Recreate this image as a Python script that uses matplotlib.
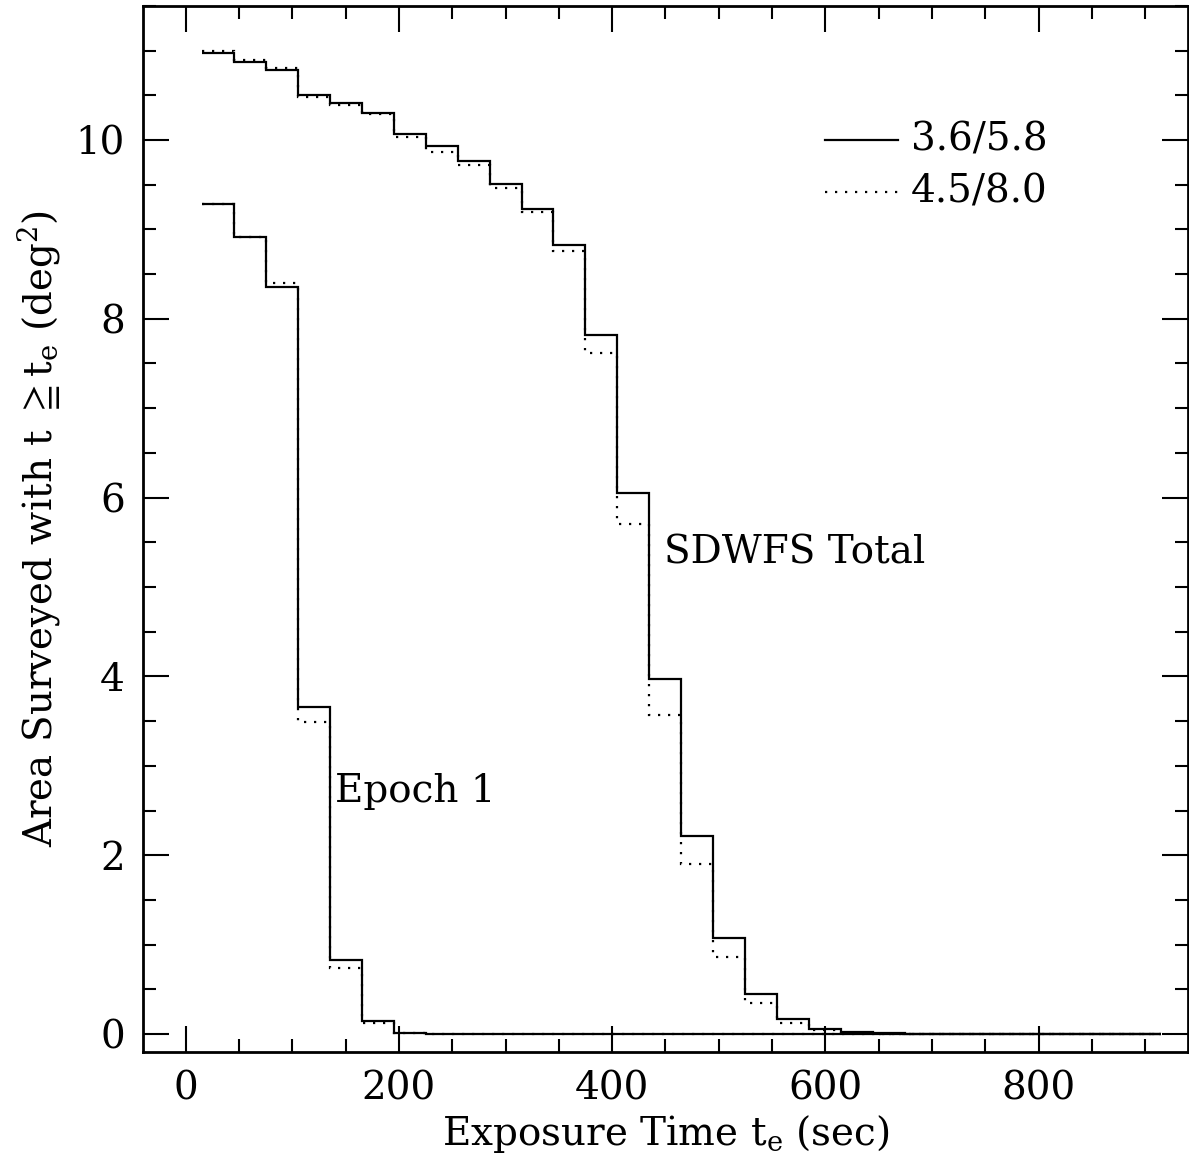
import numpy as np
import matplotlib.pyplot as plt
from matplotlib.ticker import MultipleLocator

plt.rcParams['font.family'] = ['DejaVu Serif', 'DejaVu Sans']
plt.rcParams['mathtext.fontset'] = 'dejavuserif'

# bin edges of the exposure-time histogram (sec)
edges = np.arange(15, 916, 30)

# cumulative area (deg^2), solid = 3.6/5.8, dotted = 4.5/8.0
sdwfs_36 = [10.97, 10.87, 10.78, 10.50, 10.41, 10.30, 10.07, 9.93, 9.77, 9.51,
            9.23, 8.82, 7.82, 6.05, 3.97, 2.22, 1.07, 0.45, 0.17, 0.06,
            0.022, 0.01, 0.004, 0, 0, 0, 0, 0, 0, 0]
sdwfs_45 = [11.00, 10.90, 10.81, 10.48, 10.39, 10.29, 10.03, 9.87, 9.72, 9.46,
            9.19, 8.76, 7.62, 5.70, 3.57, 1.90, 0.86, 0.35, 0.12, 0.04,
            0.015, 0.006, 0.002, 0, 0, 0, 0, 0, 0, 0]
epoch1_36 = [9.28, 8.91, 8.36, 3.66, 0.83, 0.146, 0.015, 0, 0, 0,
             0, 0, 0, 0, 0, 0, 0, 0, 0, 0,
             0, 0, 0, 0, 0, 0, 0, 0, 0, 0]
epoch1_45 = [9.28, 8.91, 8.40, 3.49, 0.74, 0.127, 0.01, 0, 0, 0,
             0, 0, 0, 0, 0, 0, 0, 0, 0, 0,
             0, 0, 0, 0, 0, 0, 0, 0, 0, 0]

fig = plt.figure(figsize=(11.89, 11.73), dpi=100)
ax = fig.add_axes([0.1203, 0.1032, 0.8787, 0.8918])

dots = (0, (1, 3.5))
ax.stairs(sdwfs_36, edges, baseline=None, color='k', lw=1.6)
ax.stairs(sdwfs_45, edges, baseline=None, color='k', lw=1.6, ls=dots)
ax.stairs(epoch1_36, edges, baseline=None, color='k', lw=1.6)
ax.stairs(epoch1_45, edges, baseline=None, color='k', lw=1.6, ls=dots)

ax.set_xlim(-40, 940)
ax.set_ylim(-0.2, 11.5)

ax.xaxis.set_major_locator(MultipleLocator(200))
ax.xaxis.set_minor_locator(MultipleLocator(50))
ax.yaxis.set_major_locator(MultipleLocator(2))
ax.yaxis.set_minor_locator(MultipleLocator(0.5))
ax.tick_params(which='both', direction='in', top=True, right=True,
               labelsize=28, width=1.5, color='k')
ax.tick_params(which='major', length=19, pad=13)
ax.tick_params(which='minor', length=9.5)
for s in ax.spines.values():
    s.set_linewidth(2)

ax.set_xlabel('Exposure Time t$_{\\rm e}$ (sec)', fontsize=28, labelpad=4)
ax.set_ylabel('Area Surveyed with t $\\geqq$t$_{\\rm e}$ (deg$^2$)', fontsize=28, labelpad=10)

ax.text(449, 5.38, 'SDWFS Total', fontsize=28, va='center')
ax.text(140, 2.71, 'Epoch 1', fontsize=28, va='center')

# legend
ax.plot([600, 668], [10.0, 10.0], color='k', lw=1.6)
ax.plot([600, 668], [9.42, 9.42], color='k', lw=1.6, ls=dots)
ax.text(680, 10.0, '3.6/5.8', fontsize=28, va='center')
ax.text(680, 9.42, '4.5/8.0', fontsize=28, va='center')

fig.savefig('out.png', dpi=100)
